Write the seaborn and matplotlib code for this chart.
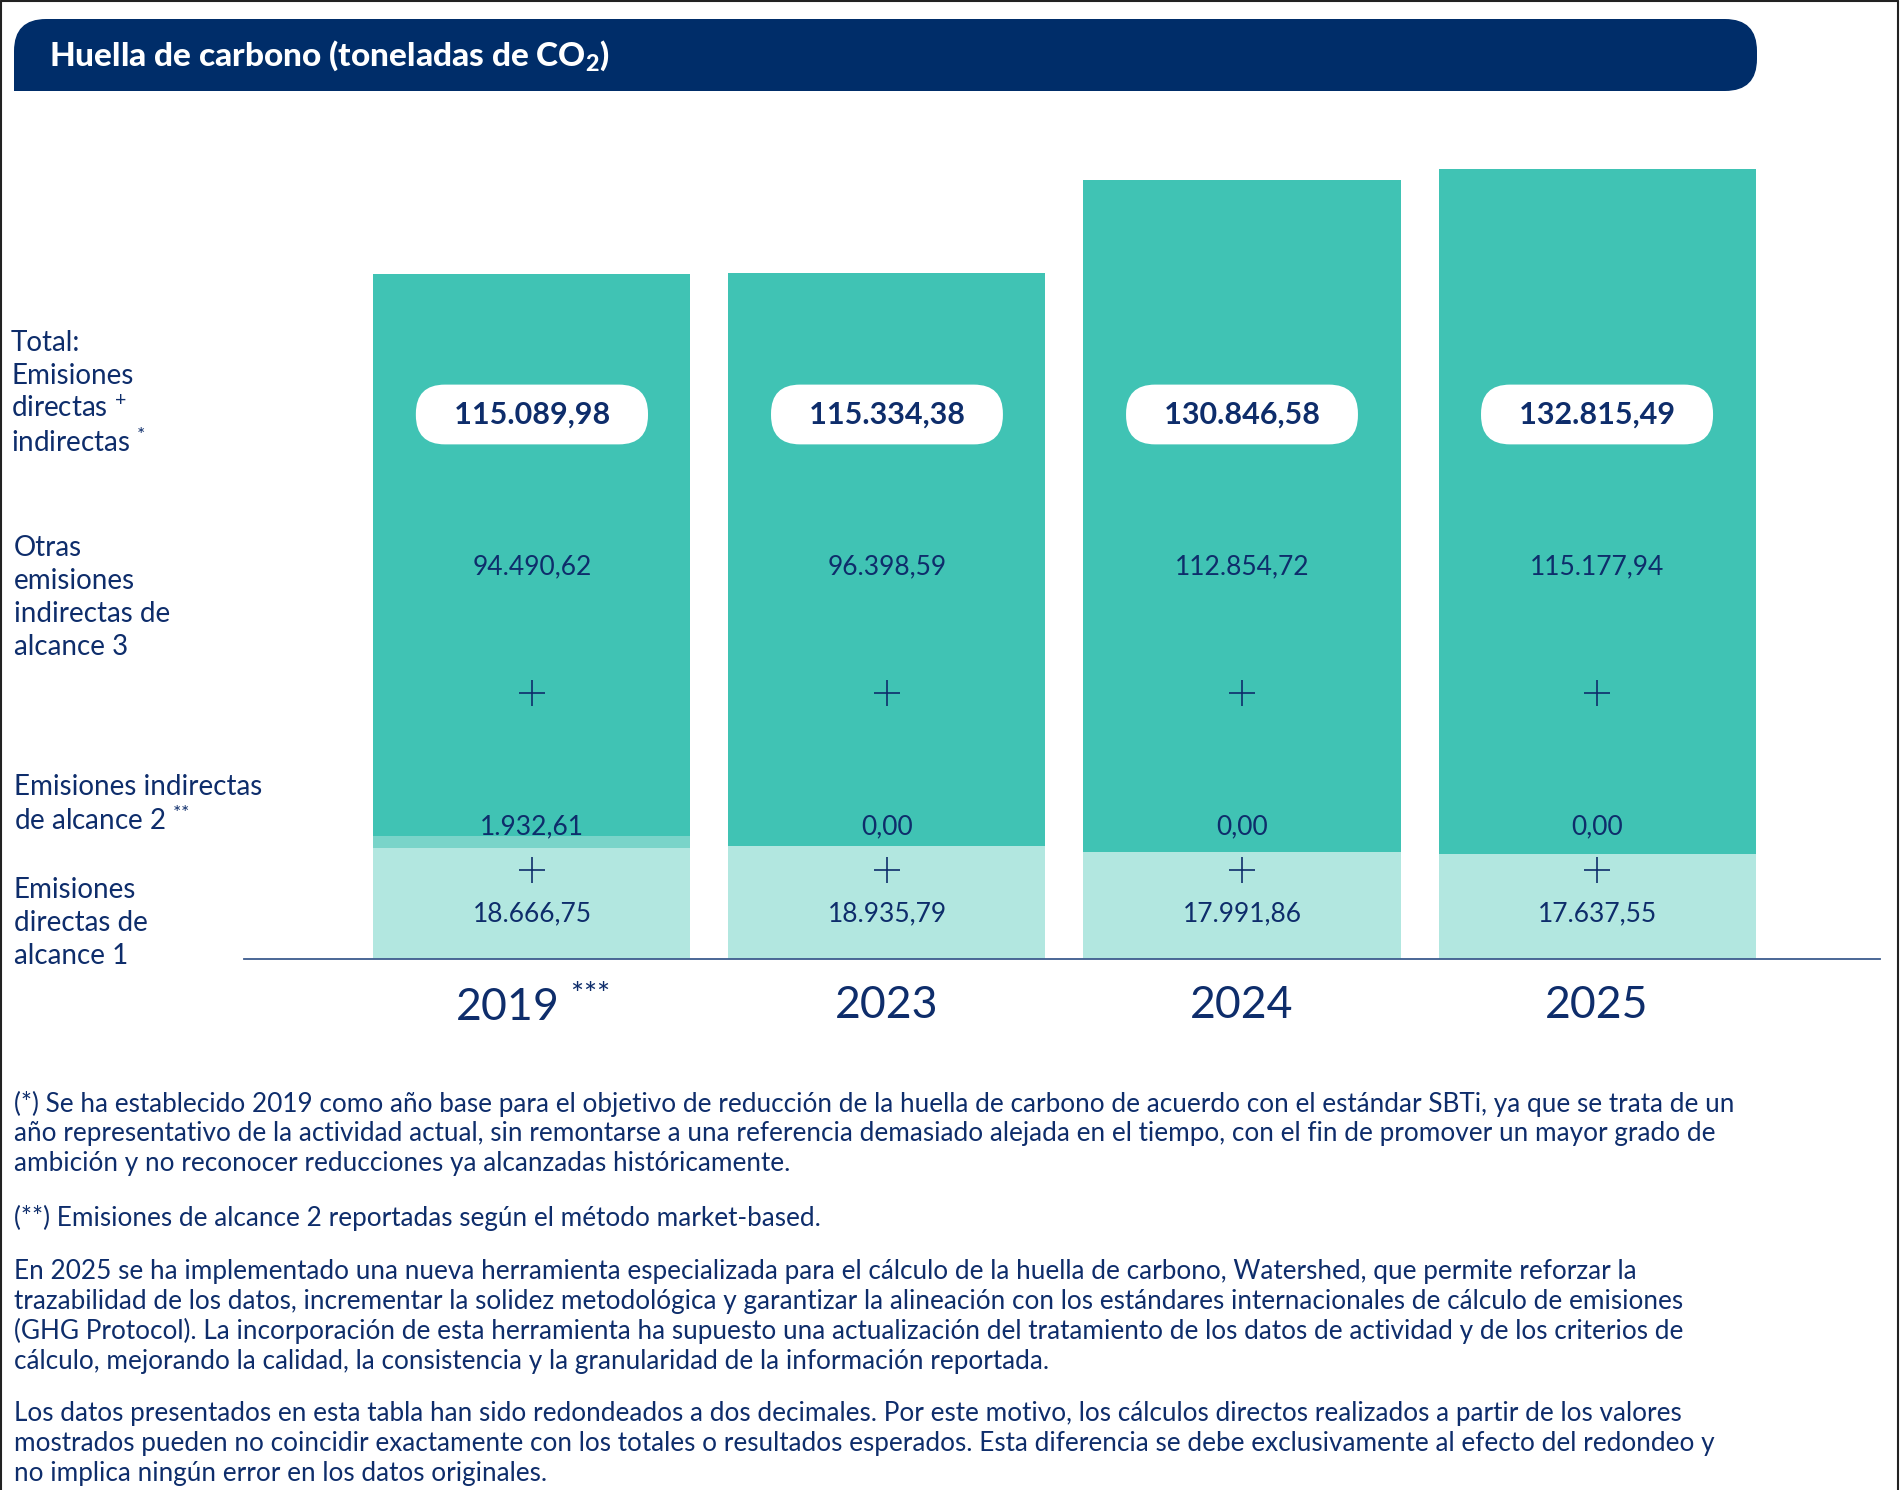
import numpy as np
import pandas as pd
import seaborn as sns
import matplotlib.pyplot as plt
from matplotlib.patches import FancyBboxPatch, Rectangle
from matplotlib.lines import Line2D
from matplotlib.transforms import blended_transform_factory

YEARS = ["2019", "2023", "2024", "2025"]
YEAR_LABELS = [r"2019 $^{\text{***}}$", "2023", "2024", "2025"]
SCOPE1 = [18666.75, 18935.79, 17991.86, 17637.55]
SCOPE2 = [1932.61, 0.00, 0.00, 0.00]
SCOPE3 = [94490.62, 96398.59, 112854.72, 115177.94]

LEFT_LABELS = [
    ["Total:", "Emisiones", r"directas $^{\text{+}}$", r"indirectas $^{\text{*}}$"],
    ["Otras", "emisiones", "indirectas de", "alcance 3"],
    ["Emisiones indirectas", r"de alcance 2 $^{\text{**}}$"],
    ["Emisiones", "directas de", "alcance 1"],
]

NOTES = [
    ["(*) Se ha establecido 2019 como año base para el objetivo de reducción de la huella de carbono de acuerdo con el estándar SBTi, ya que se trata de un",
     "año representativo de la actividad actual, sin remontarse a una referencia demasiado alejada en el tiempo, con el fin de promover un mayor grado de",
     "ambición y no reconocer reducciones ya alcanzadas históricamente."],
    ["(**) Emisiones de alcance 2 reportadas según el método market-based."],
    ["En 2025 se ha implementado una nueva herramienta especializada para el cálculo de la huella de carbono, Watershed, que permite reforzar la",
     "trazabilidad de los datos, incrementar la solidez metodológica y garantizar la alineación con los estándares internacionales de cálculo de emisiones",
     "(GHG Protocol). La incorporación de esta herramienta ha supuesto una actualización del tratamiento de los datos de actividad y de los criterios de",
     "cálculo, mejorando la calidad, la consistencia y la granularidad de la información reportada."],
    ["Los datos presentados en esta tabla han sido redondeados a dos decimales. Por este motivo, los cálculos directos realizados a partir de los valores",
     "mostrados pueden no coincidir exactamente con los totales o resultados esperados. Esta diferencia se debe exclusivamente al efecto del redondeo y",
     "no implica ningún error en los datos originales."],
]

NAVY = "#0E2D6B"
BANNER = "#002D69"
TEAL = "#40C3B4"
MID = "#79D4C9"
LIGHT = "#B2E7E0"


def fmt_es(v):
    # spanish number format: 115.089,98
    return f"{v:,.2f}".replace(",", "X").replace(".", ",").replace("X", ".")


def main():
    sns.set_theme(style="white")
    plt.rcParams["font.family"] = ["Lato", "DejaVu Sans"]
    plt.rcParams["mathtext.fontset"] = "custom"
    plt.rcParams["mathtext.rm"] = "Lato"
    plt.rcParams["mathtext.it"] = "Lato:italic"
    plt.rcParams["mathtext.bf"] = "Lato:black"

    df = pd.DataFrame({"year": YEARS, "s1": SCOPE1, "s2": SCOPE2, "s3": SCOPE3})
    df["s12"] = df["s1"] + df["s2"]
    df["total"] = df["s12"] + df["s3"]

    fig = plt.figure(figsize=(19, 14.9), dpi=100)

    # background canvas in pixel units
    bg = fig.add_axes([0, 0, 1, 1])
    bg.set_xlim(0, 1900)
    bg.set_ylim(1490, 0)
    bg.axis("off")

    # frame
    bg.add_line(Line2D([1, 1], [1490, 1], color="#222222", lw=1.5))
    bg.add_line(Line2D([1, 1898], [1, 1], color="#222222", lw=1.5))
    bg.add_line(Line2D([1898, 1898], [1, 1490], color="#222222", lw=1.5))

    # title banner
    bg.add_patch(FancyBboxPatch((14, 19), 1743, 72, boxstyle="round,pad=0,rounding_size=32",
                                fc=BANNER, ec="none"))
    bg.add_patch(Rectangle((14, 55), 45, 36, fc=BANNER, ec="none"))
    bg.text(49, 56, r"Huella de carbono (toneladas de CO$_{\mathbf{2}}$)", color="white",
            fontsize=24, fontweight="black", va="center", ha="left")

    # left row labels
    starts = [(11, 343), (14, 548), (14, 787), (14, 890)]
    for (x0, y0), lines in zip(starts, LEFT_LABELS):
        for k, line in enumerate(lines):
            bg.text(x0, y0 + k * 33, line, fontsize=20, color=NAVY, va="center", ha="left")

    # footnotes
    note_y = [1104, 1218, 1271, 1413]
    for y0, para in zip(note_y, NOTES):
        for k, line in enumerate(para):
            bg.text(14, y0 + k * 30, line, fontsize=18.8, color=NAVY, va="center", ha="left")

    # chart
    ax = fig.add_axes([244 / 1900, 531 / 1490, 1636 / 1900, 839 / 1490])
    ax.patch.set_alpha(0)
    for col, c in [("total", TEAL), ("s12", MID), ("s1", LIGHT)]:
        sns.barplot(data=df, x="year", y=col, order=YEARS, color=c, saturation=1,
                    width=0.893, linewidth=0, ax=ax)

    ax.set_xlim(-0.811, 3.797)
    ax.set_ylim(0, 141000)
    sns.despine(ax=ax, left=True)
    ax.spines["bottom"].set_color("#3D5C8E")
    ax.spines["bottom"].set_linewidth(1.3)
    ax.set_yticks([])
    ax.set_xlabel("")
    ax.set_ylabel("")
    ax.set_xticks(range(len(YEARS)))
    ax.set_xticklabels(YEAR_LABELS, fontsize=32, color=NAVY)
    ax.tick_params(axis="x", length=0, pad=19)

    tr = blended_transform_factory(ax.transData, ax.transAxes)
    xs = np.arange(len(YEARS))
    for i, row in df.iterrows():
        ax.text(i, 0.649, "   " + fmt_es(row["total"]) + "   ", transform=tr, ha="center", va="center",
                fontsize=22, fontweight="bold", color=NAVY,
                bbox=dict(boxstyle="round,pad=0.52,rounding_size=0.95", fc="white", ec="none"))
        ax.text(i, 0.467, fmt_es(row["s3"]), transform=tr, ha="center", va="center",
                fontsize=19, color=NAVY)
        ax.text(i, 0.157, fmt_es(row["s2"]), transform=tr, ha="center", va="center",
                fontsize=19, color=NAVY)
        ax.text(i, 0.054, fmt_es(row["s1"]), transform=tr, ha="center", va="center",
                fontsize=19, color=NAVY)
    for fy in [0.317, 0.106]:
        ax.plot(xs, [fy] * len(xs), transform=tr, ls="none", marker="+", ms=19, mew=1.2, color=NAVY)

    fig.savefig("out.png", dpi=100, facecolor="white")


if __name__ == "__main__":
    main()
